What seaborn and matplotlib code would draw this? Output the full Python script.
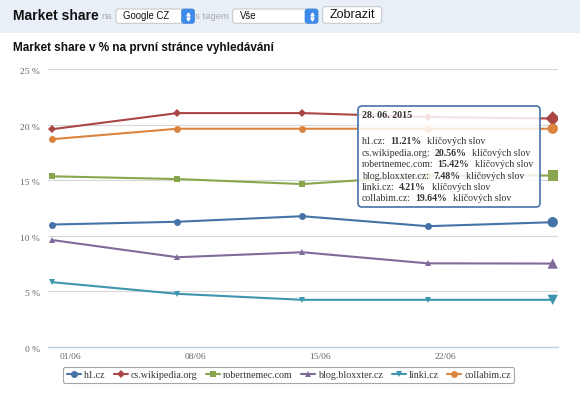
import pandas as pd
import seaborn as sns
import matplotlib.pyplot as plt
import matplotlib.dates as mdates
import matplotlib.transforms as mtransforms
from matplotlib.patches import FancyBboxPatch, Rectangle
from matplotlib.lines import Line2D

# data (weekly, last point from the tooltip)
dates = ["2015-05-31", "2015-06-07", "2015-06-14", "2015-06-21", "2015-06-28"]
sites = ["h1.cz", "cs.wikipedia.org", "robertnemec.com", "blog.bloxxter.cz", "linki.cz", "collabim.cz"]
h1 = [11.0, 11.25, 11.75, 10.85, 11.21]
wiki = [19.6, 21.05, 21.05, 20.7, 20.56]
robertnemec = [15.35, 15.1, 14.65, 15.4, 15.42]
bloxxter = [9.6, 8.05, 8.5, 7.5, 7.48]
linki = [5.8, 4.75, 4.21, 4.21, 4.21]
collabim = [18.7, 19.64, 19.64, 19.64, 19.64]
tick_days = ["2015-06-01", "2015-06-08", "2015-06-15", "2015-06-22"]
y_ticks = [0, 5, 10, 15, 20, 25]
tooltip_date = "28. 06. 2015"

colors = ["#4572A7", "#AA4643", "#89A54E", "#80699B", "#3D96AE", "#DB843D"]
markers = ["o", "D", "s", "^", "v", "o"]
msizes = [5, 3.8, 5, 5, 5, 5]

series = [h1, wiki, robertnemec, bloxxter, linki, collabim]
df = pd.DataFrame({
    "date": pd.to_datetime(dates * len(sites)),
    "site": [s for s in sites for _ in dates],
    "share": [v for vals in series for v in vals],
})

sns.set_style("white")
plt.rcParams["font.family"] = ["Liberation Serif", "DejaVu Serif"]

W, H = 580, 396
fig = plt.figure(figsize=(W / 100, H / 100), dpi=100)


def fx(x):
    return x / W


def fy(y):
    return 1 - y / H


# page header band
fig.add_artist(Rectangle((0, fy(33)), 1, 33 / H, transform=fig.transFigure,
                         facecolor="#E9EFF7", edgecolor="none", zorder=0))
sans = ["Liberation Sans", "DejaVu Sans"]
fig.text(fx(13), fy(15.5), "Market share", family=sans, fontweight="bold", fontsize=10,
         va="center", color="#111111")
fig.text(fx(101.5), fy(16.5), "na", family=sans, fontsize=6.8, va="center", color="#AAAAAA")
fig.text(fx(195), fy(16.5), "s tagem", family=sans, fontsize=6.8, va="center", color="#AAAAAA")


def dropdown(x0, x1, label):
    fig.add_artist(FancyBboxPatch((x0 / 100, (H - 23.3) / 100), (x1 - x0) / 100, 0.143,
                                  boxstyle="round,pad=0,rounding_size=0.025",
                                  transform=fig.dpi_scale_trans, facecolor="white",
                                  edgecolor="#C4C4C4", linewidth=0.7, zorder=2))
    fig.add_artist(FancyBboxPatch(((x1 - 13) / 100, (H - 23.3) / 100), 0.13, 0.143,
                                  boxstyle="round,pad=0,rounding_size=0.025",
                                  transform=fig.dpi_scale_trans, facecolor="#3D8AE8",
                                  edgecolor="#3D8AE8", linewidth=0.5, zorder=3))
    fig.add_artist(Line2D([fx(x1 - 6.5)], [fy(14)], marker="^", markersize=2.2, color="white",
                          transform=fig.transFigure, zorder=4))
    fig.add_artist(Line2D([fx(x1 - 6.5)], [fy(18.5)], marker="v", markersize=2.2, color="white",
                          transform=fig.transFigure, zorder=4))
    fig.text(fx(x0 + 7), fy(16.3), label, family=sans, fontsize=6.9, va="center",
             color="#111111", zorder=4)


dropdown(116, 194.5, "Google CZ")
dropdown(232.7, 318, "Vše")
fig.add_artist(FancyBboxPatch((322.7 / 100, (H - 23.3) / 100), 0.59, 0.166,
                              boxstyle="round,pad=0,rounding_size=0.03",
                              transform=fig.dpi_scale_trans, facecolor="white",
                              edgecolor="#C4C4C4", linewidth=0.7, zorder=2))
fig.text(fx(352.2), fy(15), "Zobrazit", family=sans, fontsize=9, ha="center", va="center",
         color="#111111", zorder=4)

fig.text(fx(13), fy(47.5), "Market share v % na první stránce vyhledávání", family=sans,
         fontweight="bold", fontsize=8.5, va="center", color="#111111")

# chart
ax = fig.add_axes([fx(48.3), fy(346.5), (558.3 - 48.3) / W, (346.5 - 69.3) / H])
palette = dict(zip(sites, colors))
mk = dict(zip(sites, markers))
for site, ms in zip(sites, msizes):
    sns.lineplot(data=df[df["site"] == site], x="date", y="share", color=palette[site],
                 marker=mk[site], markersize=ms, markeredgewidth=0, linewidth=1.5,
                 ax=ax, legend=False, zorder=3)

# hovered points (enlarged markers at the last date)
last = df[df["date"] == df["date"].max()]
sns.scatterplot(data=last, x="date", y="share", hue="site", style="site", palette=palette,
                markers=mk, s=55, linewidth=0, ax=ax, legend=False, zorder=4)

d0 = pd.Timestamp(dates[0])
d1 = pd.Timestamp(dates[-1])
ax.set_xlim(d0 - pd.Timedelta(hours=5.3), d1 + pd.Timedelta(hours=7.5))
ax.set_ylim(0, 25)
ax.set_yticks(y_ticks)
ax.set_yticklabels([f"{v} %" for v in y_ticks])
ax.set_xticks(pd.to_datetime(tick_days))
ax.xaxis.set_major_formatter(mdates.DateFormatter("%d/%m"))
ax.set_xlabel("")
ax.set_ylabel("")
ax.grid(axis="y", color="#D6D6D6", linewidth=0.8)
ax.grid(axis="x", visible=False)
for side in ["top", "right", "left"]:
    ax.spines[side].set_visible(False)
ax.spines["bottom"].set_color("#C0D0E0")
ax.spines["bottom"].set_linewidth(1)
ax.tick_params(axis="x", length=4, color="#C0D0E0", width=0.8, pad=0.5,
               labelsize=6.8, labelcolor="#666666")
ax.tick_params(axis="y", length=0, pad=6, labelsize=6.8, labelcolor="#666666")
shift = mtransforms.ScaledTranslation(0, -2 / 100, fig.dpi_scale_trans)
for lbl in ax.get_yticklabels():
    lbl.set_transform(lbl.get_transform() + shift)

# legend
handles = [Line2D([], [], color=c, marker=m, markersize=5 if m != "D" else 3.8,
                  markeredgewidth=0, linewidth=1.5) for c, m in zip(colors, markers)]
leg = fig.legend(handles, sites, loc="center", bbox_to_anchor=(fx(288.8), fy(375)),
                 ncol=6, fontsize=7.2, frameon=True, handlelength=1.4, handletextpad=0.3,
                 columnspacing=0.85, borderpad=0.35, borderaxespad=0, fancybox=True)
leg.get_frame().set_edgecolor("#909090")
leg.get_frame().set_linewidth(0.8)
for t in leg.get_texts():
    t.set_color("#333333")

# tooltip
fig.add_artist(FancyBboxPatch((3.58, (H - 207) / 100), 1.82, 1.01,
                              boxstyle="round,pad=0,rounding_size=0.04",
                              transform=fig.dpi_scale_trans, facecolor=(1, 1, 1, 0.85),
                              edgecolor="#4572A7", linewidth=1.2, zorder=10))
fig.text(fx(362), fy(116), tooltip_date, fontsize=7.2, fontweight="bold", va="center",
         color="#333333", zorder=11)

fig.canvas.draw()
renderer = fig.canvas.get_renderer()
rows_y = [142, 153.4, 164.8, 176.2, 187.6, 199]
for site, vals, y in zip(sites, series, rows_y):
    x = fx(362)
    parts = [(site + ":", "normal", 4), (f"{vals[-1]:.2f}%", "bold", 6),
             ("klíčových slov", "normal", 0)]
    for s, w, gap in parts:
        t = fig.text(x, fy(y), s, fontsize=7.1, fontweight=w, va="center", color="#333333",
                     zorder=11)
        bb = t.get_window_extent(renderer=renderer)
        x = (bb.x1 + gap) / fig.bbox.width

fig.savefig("out.png", dpi=100)
